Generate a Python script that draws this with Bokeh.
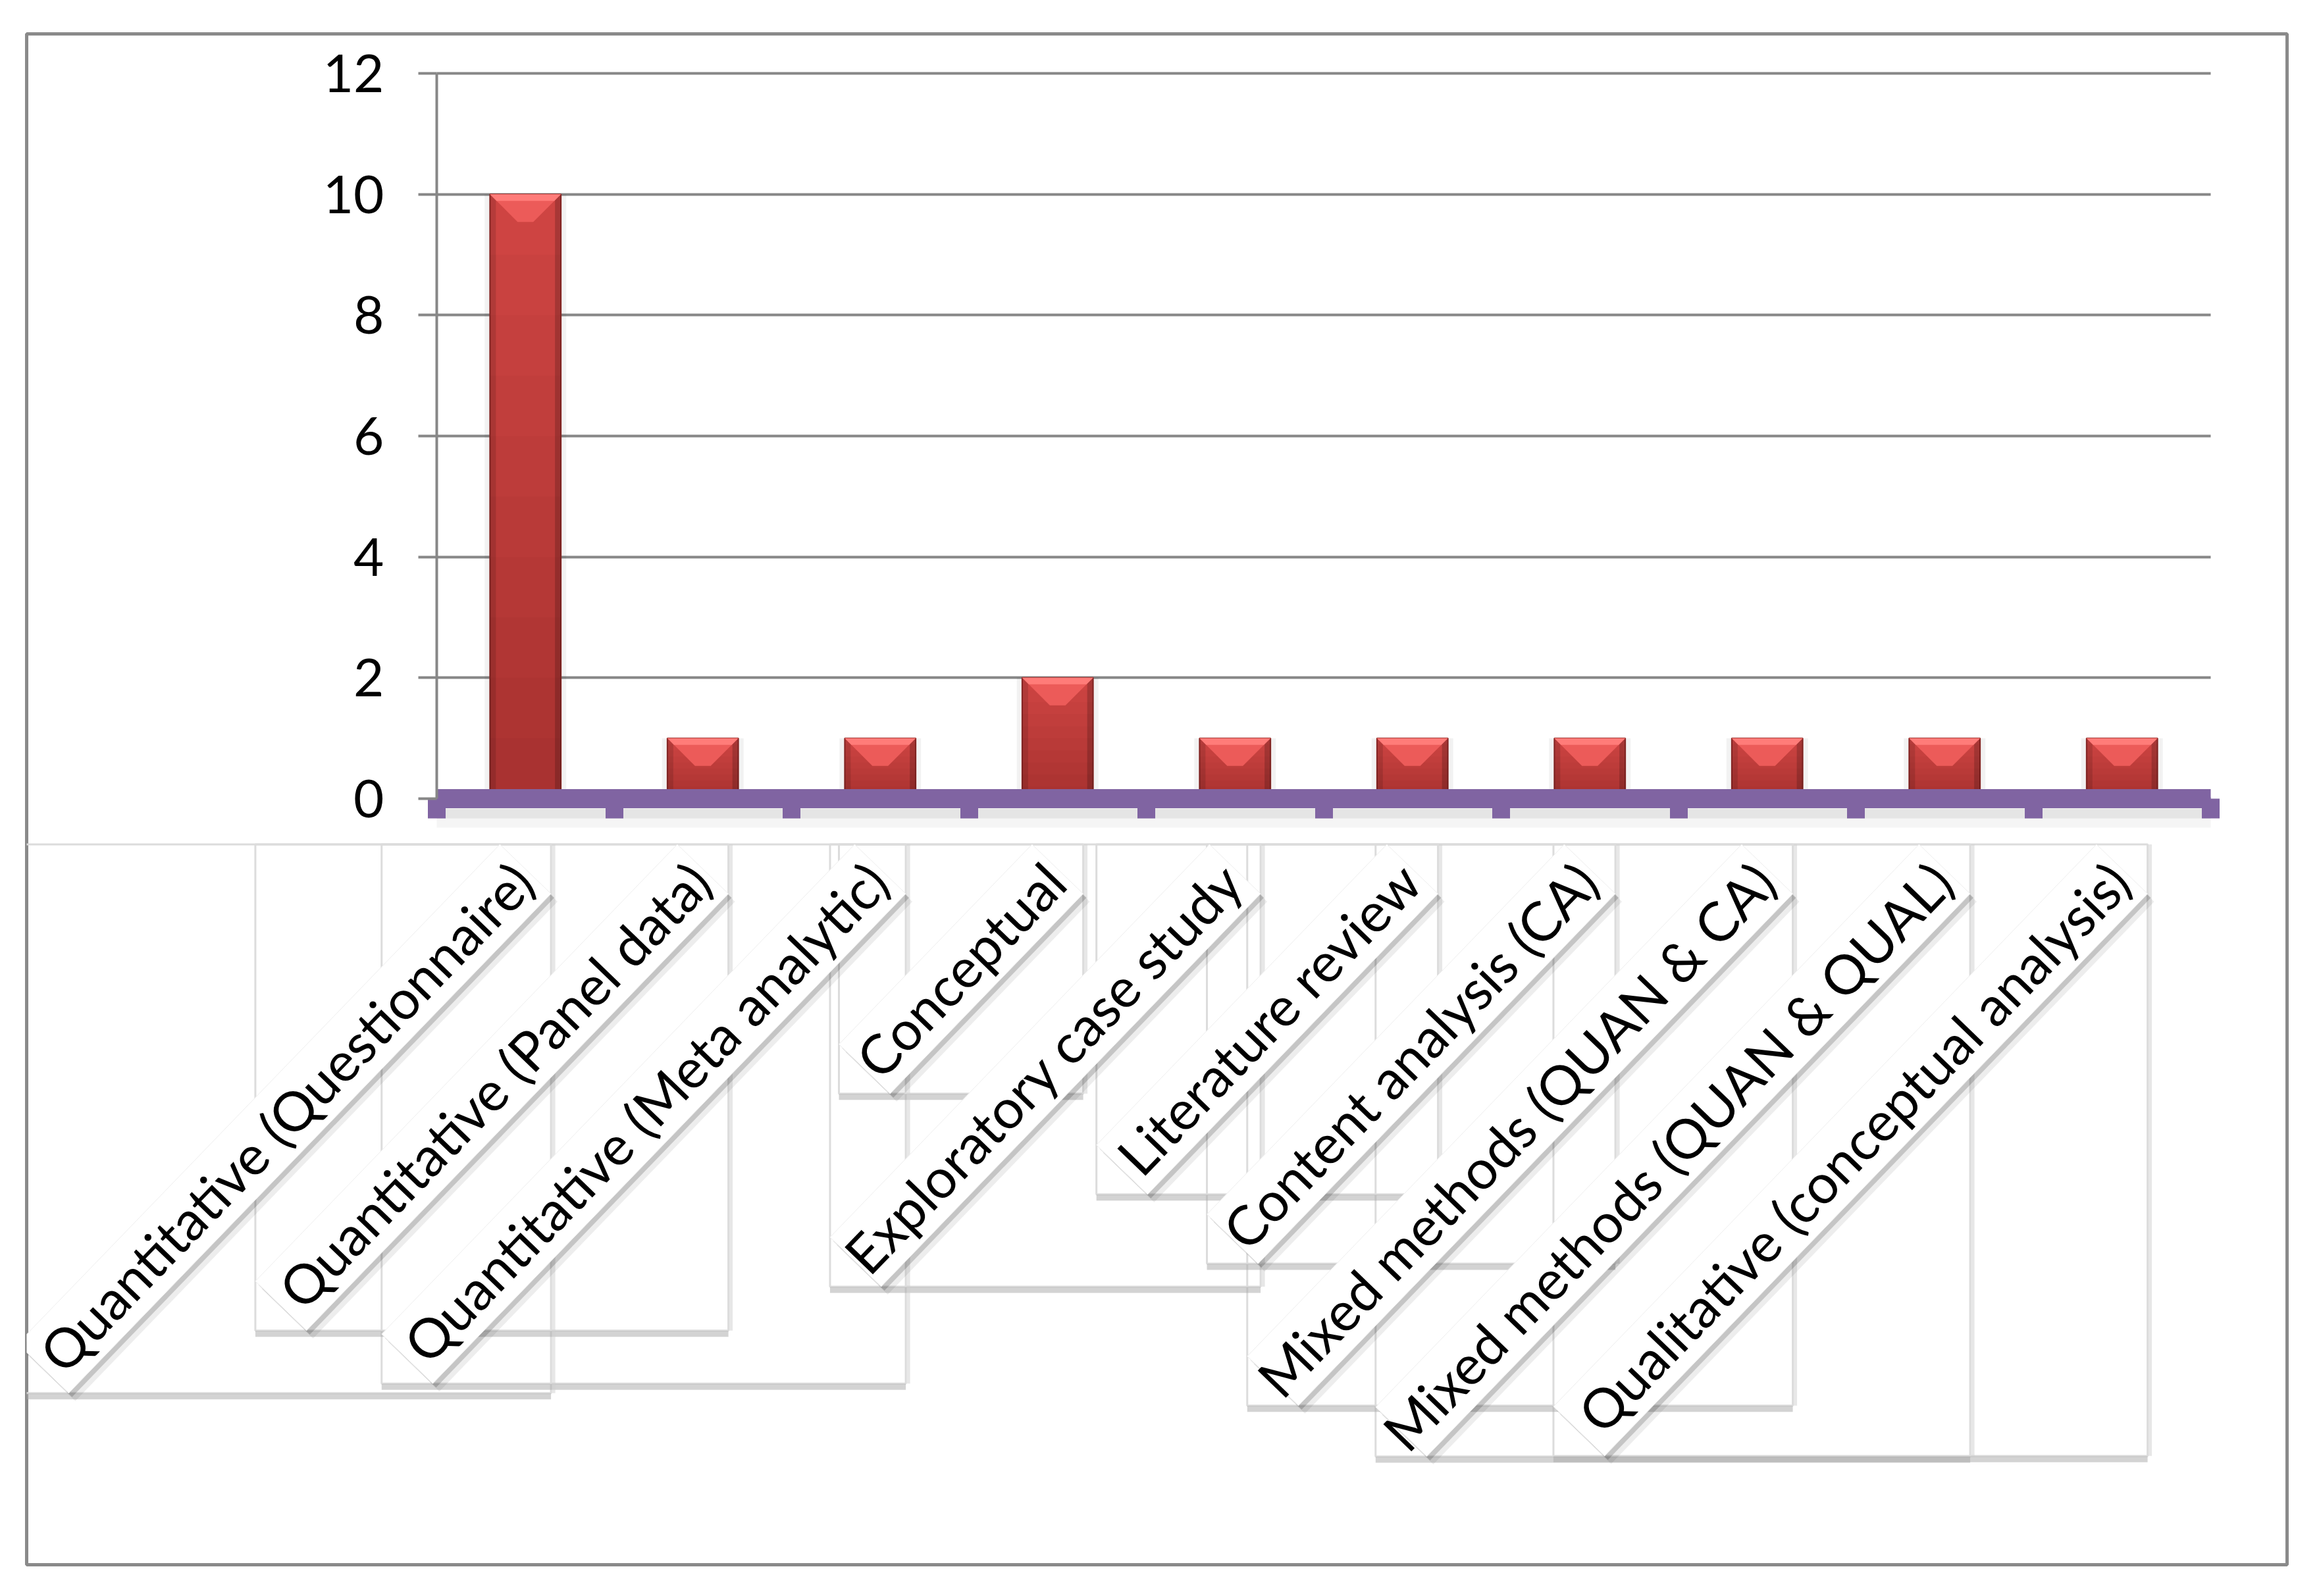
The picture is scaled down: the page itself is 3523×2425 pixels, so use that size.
import math
from bokeh.plotting import figure
from bokeh.models import Range1d, FixedTicker, ColumnDataSource
from bokeh.core.properties import value
from bokeh.embed import file_html
from bokeh.resources import INLINE

# ---------------- data ----------------
categories = [
    "Quantitative (Questionnaire)",
    "Quantitative (Panel data)",
    "Quantitative (Meta analytic)",
    "Conceptual",
    "Exploratory case study",
    "Literature review",
    "Content analysis (CA)",
    "Mixed methods (QUAN & CA)",
    "Mixed methods (QUAN & QUAL)",
    "Qualitative (conceptual analysis)",
]
counts = [10, 1, 1, 2, 1, 1, 1, 1, 1, 1]
y_ticks = [0, 2, 4, 6, 8, 10, 12]

# ---------------- layout (pixels) ----------------
W, H = 3500, 2400
FL, FR, FT, FB = 40, 26, 51, 23          # borders around the frame (frame = outer box)
FW, FH = W - FL - FR, H - FT - FB
PXX = 269.5                               # px per category
PXY = 91.83                               # px per count unit
X0_OFF = 623                              # frame left -> x = 0
YTOP_OFF = 60                             # frame top -> y = 12

x_start = -X0_OFF / PXX
x_end = x_start + FW / PXX
y_end = y_ticks[-1] + YTOP_OFF / PXY
y_start = y_end - FH / PXY

FONT = "Lato"
LABEL_PX = 83
n = len(categories)

p = figure(width=W, height=H,
           x_range=Range1d(x_start, x_end), y_range=Range1d(y_start, y_end),
           output_backend="svg", toolbar_location=None,
           min_border_left=FL, min_border_right=FR,
           min_border_top=FT, min_border_bottom=FB)
p.background_fill_color = "white"
p.border_fill_color = "white"
p.outline_line_color = "#8a8a8a"
p.outline_line_width = 5

# grid
p.xgrid.visible = False
GRID_COLOR = "#878787"
p.ygrid.ticker = FixedTicker(ticks=y_ticks)
p.ygrid.grid_line_color = GRID_COLOR
p.ygrid.grid_line_width = 4
try:
    p.ygrid.cross_bounds = (0, n)
except Exception:
    p.ygrid.visible = False
    p.segment(x0=[0] * len(y_ticks), x1=[n] * len(y_ticks), y0=y_ticks, y1=y_ticks,
              line_color=GRID_COLOR, line_width=4, level="underlay")

# y axis
yax = p.yaxis[0]
yax.ticker = FixedTicker(ticks=y_ticks)
yax.fixed_location = 0
yax.bounds = (y_ticks[0], y_ticks[-1])
yax.axis_line_color = GRID_COLOR
yax.axis_line_width = 4
yax.major_tick_line_color = GRID_COLOR
yax.major_tick_line_width = 4
yax.major_tick_out = 28
yax.major_tick_in = 0
yax.minor_tick_line_color = None
yax.major_label_text_font = FONT
yax.major_label_text_font_size = "80px"
yax.major_label_text_color = "black"
yax.major_label_standoff = 52

# x axis (purple, tick marks at category boundaries, no axis labels)
xax = p.xaxis[0]
xax.ticker = FixedTicker(ticks=[], minor_ticks=list(range(n + 1)))
xax.fixed_location = 0
xax.bounds = (0, n)
xax.axis_line_color = "#8064A2"
xax.axis_line_width = 29
xax.major_tick_line_color = None
xax.minor_tick_line_color = "#8064A2"
xax.minor_tick_line_width = 27
xax.minor_tick_out = 30
xax.minor_tick_in = 0

xs = [i + 0.5 for i in range(n)]
src = ColumnDataSource(dict(x=xs, top=counts, cat=categories))

# shadow under the purple axis
p.quad(left=0, right=n, top=-15 / PXY, bottom=-30 / PXY,
       fill_color="black", fill_alpha=0.10, line_color=None)
p.quad(left=0, right=n, top=-30 / PXY, bottom=-44 / PXY,
       fill_color="black", fill_alpha=0.04, line_color=None)

# bars: soft shadow, body, shading, bevel
BAR_W = 0.4
hw = BAR_W / 2
p.vbar(x="x", top="top", bottom=0, width=BAR_W + 0.06, source=src,
       fill_color="black", fill_alpha=0.05, line_color=None)
p.vbar(x="x", top="top", bottom=0, width=BAR_W, source=src,
       fill_color="#CE4442", line_color="#8E2927", line_width=2)
STEPS = 10
for k in range(1, STEPS):
    p.vbar(x=xs, top=[t * k / STEPS for t in counts], bottom=0, width=BAR_W,
           fill_color="black", fill_alpha=0.02, line_color=None)
edge = 9 / PXX
p.vbar(x=[x - hw + edge / 2 for x in xs], top=counts, bottom=0, width=edge,
       fill_color="black", fill_alpha=0.12, line_color=None)
p.vbar(x=[x + hw - edge / 2 for x in xs], top=counts, bottom=0, width=edge,
       fill_color="black", fill_alpha=0.18, line_color=None)
bdx = 42 / PXX
bdy = 42 / PXY
bev_x = [[x - hw, x + hw, x + hw - bdx, x - hw + bdx] for x in xs]
bev_y = [[t, t, t - bdy, t - bdy] for t in counts]
p.patches(bev_x, bev_y, fill_color="#EC5B59", line_color=None)
top_x = [[x - hw, x + hw, x + hw - 10 / PXX, x - hw + 10 / PXX] for x in xs]
top_y = [[t, t, t - 10 / PXY, t - 10 / PXY] for t in counts]
p.patches(top_x, top_y, fill_color="#FF7C79", line_color=None)

# ---------------- category labels (rotated, boxed) ----------------
EM = {' ': .226, '(': .303, ')': .303, '&': .682,
      'a': .479, 'b': .525, 'c': .423, 'd': .525, 'e': .498, 'f': .305,
      'g': .471, 'h': .525, 'i': .229, 'j': .239, 'k': .455, 'l': .229,
      'm': .799, 'n': .525, 'o': .527, 'p': .525, 'q': .525, 'r': .349,
      's': .391, 't': .335, 'u': .525, 'v': .452, 'w': .715, 'x': .433,
      'y': .453, 'z': .395,
      'A': .579, 'C': .533, 'E': .488, 'L': .42, 'M': .855, 'N': .646,
      'Q': .662, 'U': .653, 'P': .517}
PAD = 6
END_DX = 0          # px right of category centre
END_DY = 107        # px below the zero line
THICK = 108         # label box thickness (px)
ANG = math.radians(46)
CA, SA = math.cos(ANG), math.sin(ANG)
PX_PER_EM = LABEL_PX * 1.075

lengths = [sum(EM.get(c, 0.5) for c in s) * PX_PER_EM + 2 * PAD for s in categories]


def rot_box(xc, L, ox=0.0, oy=0.0):
    """corners of a rotated label box, screen px offsets -> data."""
    ex, ey = END_DX + ox, END_DY + oy
    hx, hy = SA * THICK / 2, CA * THICK / 2
    pts = [(ex - hx, ey - hy), (ex + hx, ey + hy),
           (ex - CA * L + hx, ey + SA * L + hy), (ex - CA * L - hx, ey + SA * L - hy)]
    return [xc + a / PXX for a, _ in pts], [-b / PXY for _, b in pts]


bl, br, bt, bb = [], [], [], []
for x, L in zip(xs, lengths):
    hx, hy = SA * THICK / 2, CA * THICK / 2
    bl.append(x + (END_DX - CA * L - hx) / PXX)
    br.append(x + (END_DX + hx) / PXX)
    bt.append(-(END_DY - hy) / PXY)
    bb.append(-(END_DY + SA * L + hy) / PXY)

# faint bounding boxes with soft bottom / right shadows
p.quad(left=bl, right=br, top=bt, bottom=bb, fill_color=None,
       line_color="#dcdcdc", line_width=3)
p.segment(x0=bl, x1=br, y0=[b - 5 / PXY for b in bb], y1=[b - 5 / PXY for b in bb],
          line_color="#a8a8a8", line_alpha=0.5, line_width=9)
p.segment(x0=[r + 4 / PXX for r in br], x1=[r + 4 / PXX for r in br],
          y0=bt, y1=bb, line_color="#cfcfcf", line_alpha=0.5, line_width=5)

# rotated label boxes: two-step shadow, then white box
for (ox, oy, a) in [(10, 12, 0.07), (5, 6, 0.17)]:
    sx, sy = zip(*[rot_box(x, L, ox, oy) for x, L in zip(xs, lengths)])
    p.patches(list(sx), list(sy), fill_color="black", fill_alpha=a, line_color=None)
wx, wy = zip(*[rot_box(x, L) for x, L in zip(xs, lengths)])
p.patches(list(wx), list(wy), fill_color="white", line_color="#eeeeee", line_width=1)

lab_x = [x + END_DX / PXX for x in xs]
lab_y = [-END_DY / PXY] * n
lsrc = ColumnDataSource(dict(x=lab_x, y=lab_y, text=categories))
p.text(x="x", y="y", text="text", source=lsrc, angle=ANG,
       x_offset=-PAD * CA, y_offset=PAD * SA,
       text_font=value(FONT), text_font_size="%dpx" % LABEL_PX,
       text_align="right", text_baseline="middle", text_color="black")

open("out.html", "w").write(file_html(p, INLINE))
